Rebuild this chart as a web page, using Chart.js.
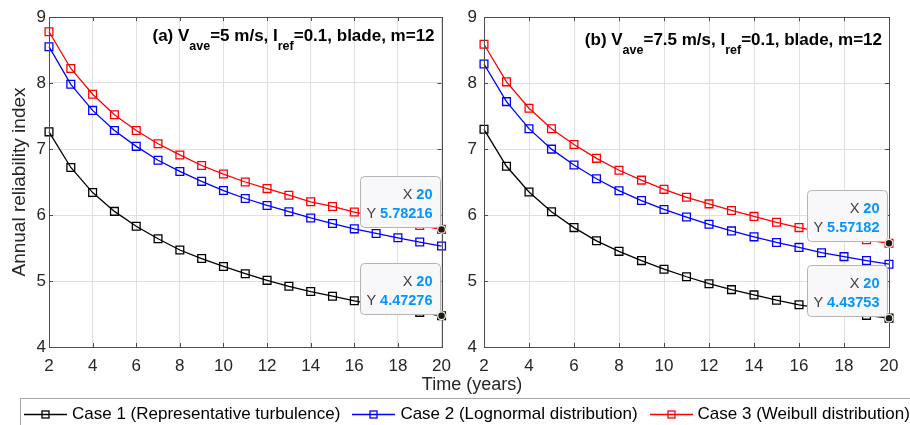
<!DOCTYPE html>
<html>
<head>
<meta charset="utf-8">
<script src="https://cdn.jsdelivr.net/npm/chart.js@4.4.0/dist/chart.umd.min.js"></script>
<style>
  body { margin: 0; background: #fff; font-family: "Liberation Sans", Arial, sans-serif; }
  #wrap { position: relative; width: 910px; height: 425px; overflow: hidden; background: #fff; }
  #chartA { position: absolute; left: 0; top: 0; }
  #chartB { position: absolute; left: 460px; top: 0; }
  #xlabel { position: absolute; left: 0; width: 944px; top: 374px; text-align: center;
            font-size: 18px; line-height: 21px; color: #262626; }
  #legend { position: absolute; left: 20px; top: 398px; width: 1000px; height: 60px;
            border: 1px solid #a8a8a8; background: #fff; }
  #legend .row { display: flex; align-items: center; height: 29px; padding-left: 3px; white-space: nowrap; }
  #legend .item { display: flex; align-items: center; margin-right: 12px; font-size: 17px; color: #000; }
  #legend svg { margin-right: 5px; }
</style>
</head>
<body>
<div id="wrap">
  <canvas id="chartA" width="460" height="380"></canvas>
  <canvas id="chartB" width="450" height="380"></canvas>
  <div id="xlabel">Time (years)</div>
  <div id="legend"><div class="row" id="legendRow"></div></div>
</div>
<script>
// data
const years = [2, 3, 4, 5, 6, 7, 8, 9, 10, 11, 12, 13, 14, 15, 16, 17, 18, 19, 20];
const xTicks = [2, 4, 6, 8, 10, 12, 14, 16, 18, 20];
const yTicks = [4, 5, 6, 7, 8, 9];

const seriesNames = ['Case 1 (Representative turbulence)', 'Case 2 (Lognormal distribution)', 'Case 3 (Weibull distribution)'];
const seriesColors = ['#000000', '#0000ff', '#ff0000'];

// panel (a)
const a_case1 = [7.26, 6.72, 6.34, 6.055, 5.83, 5.64, 5.47, 5.34, 5.22, 5.11, 5.01, 4.92, 4.84, 4.77, 4.70, 4.64, 4.58, 4.525, 4.47276];
const a_case2 = [8.55, 7.98, 7.585, 7.28, 7.04, 6.83, 6.66, 6.51, 6.37, 6.25, 6.145, 6.05, 5.955, 5.87, 5.79, 5.72, 5.655, 5.59, 5.53];
const a_case3 = [8.777, 8.22, 7.83, 7.52, 7.28, 7.08, 6.91, 6.75, 6.62, 6.50, 6.40, 6.30, 6.20, 6.13, 6.045, 5.97, 5.905, 5.84, 5.78216];

// panel (b)
const b_case1 = [7.30, 6.74, 6.35, 6.05, 5.81, 5.61, 5.45, 5.31, 5.18, 5.065, 4.96, 4.87, 4.79, 4.71, 4.64, 4.585, 4.53, 4.48, 4.43753];
const b_case2 = [8.29, 7.72, 7.31, 7.00, 6.76, 6.55, 6.37, 6.22, 6.085, 5.97, 5.86, 5.76, 5.67, 5.585, 5.51, 5.43, 5.37, 5.31, 5.255];
const b_case3 = [8.59, 8.02, 7.62, 7.31, 7.07, 6.86, 6.68, 6.53, 6.39, 6.27, 6.17, 6.07, 5.98, 5.89, 5.81, 5.745, 5.68, 5.625, 5.57182];

const titleA = [['(a) V', 0], ['ave', 1], ['=5 m/s, I', 0], ['ref', 1], ['=0.1, blade, m=12', 0]];
const titleB = [['(b) V', 0], ['ave', 1], ['=7.5 m/s, I', 0], ['ref', 1], ['=0.1, blade, m=12', 0]];

const FONT = '"Liberation Sans", Arial, sans-serif';

// axes box, inward ticks, panel title and data tips
const panelPlugin = {
  id: 'panel',
  afterDatasetsDraw(chart, args, opts) {
    const ctx = chart.ctx;
    const a = chart.chartArea;
    const xs = chart.scales.x, ys = chart.scales.y;
    ctx.save();
    ctx.strokeStyle = '#4d4d4d';
    ctx.lineWidth = 1;
    ctx.strokeRect(Math.round(a.left) + 0.5, Math.round(a.top) + 0.5,
                   Math.round(a.right - a.left), Math.round(a.bottom - a.top));
    ctx.beginPath();
    xTicks.forEach(t => {
      const px = Math.round(xs.getPixelForValue(t)) + 0.5;
      ctx.moveTo(px, a.bottom); ctx.lineTo(px, a.bottom - 4);
      ctx.moveTo(px, a.top); ctx.lineTo(px, a.top + 4);
    });
    yTicks.forEach(t => {
      const py = Math.round(ys.getPixelForValue(t)) + 0.5;
      ctx.moveTo(a.left, py); ctx.lineTo(a.left + 4, py);
      ctx.moveTo(a.right, py); ctx.lineTo(a.right - 4, py);
    });
    ctx.stroke();

    // title with subscripts
    const mainFont = 'bold 17px ' + FONT, subFont = 'bold 12.5px ' + FONT;
    let total = 0;
    opts.title.forEach(p => { ctx.font = p[1] ? subFont : mainFont; total += ctx.measureText(p[0]).width; });
    let x = a.right - 7 - total;
    ctx.fillStyle = '#000';
    ctx.textAlign = 'left';
    ctx.textBaseline = 'alphabetic';
    opts.title.forEach(p => {
      ctx.font = p[1] ? subFont : mainFont;
      ctx.fillText(p[0], x, p[1] ? opts.titleY + 9 : opts.titleY);
      x += ctx.measureText(p[0]).width;
    });

    // data tips
    opts.tips.forEach(di => {
      const meta = chart.getDatasetMeta(di);
      const last = meta.data.length - 1;
      const pt = meta.data[last];
      const px = pt.x, py = pt.y;
      const yv = chart.data.datasets[di].data[last];
      const xv = chart.data.labels[last];
      const bx = Math.round(px - 82) + 0.5, by = Math.round(py - 53) + 0.5, bw = 80, bh = 51;
      ctx.beginPath();
      ctx.roundRect(bx, by, bw, bh, 4);
      ctx.fillStyle = '#f8f8fa';
      ctx.fill();
      ctx.strokeStyle = '#b4b4b4';
      ctx.lineWidth = 1;
      ctx.stroke();
      const rx = bx + bw - 8;
      const lines = [['X ', String(xv), by + 22], ['Y ', String(yv), by + 41]];
      lines.forEach(l => {
        ctx.font = 'bold 14.5px ' + FONT;
        const vw = ctx.measureText(l[1]).width;
        ctx.textAlign = 'right';
        ctx.fillStyle = '#0096ff';
        ctx.fillText(l[1], rx, l[2]);
        ctx.font = '14.5px ' + FONT;
        ctx.fillStyle = '#404040';
        ctx.fillText(l[0], rx - vw, l[2]);
      });
      // marker
      ctx.beginPath();
      ctx.arc(px, py, 4.5, 0, Math.PI * 2);
      ctx.fillStyle = '#eeeed8';
      ctx.fill();
      ctx.beginPath();
      ctx.arc(px, py, 3.2, 0, Math.PI * 2);
      ctx.fillStyle = '#1a1a1a';
      ctx.fill();
    });
    ctx.restore();
  }
};

function makeDatasets(c1, c2, c3) {
  return [c1, c2, c3].map((d, i) => ({
    label: seriesNames[i],
    data: d,
    borderColor: seriesColors[i],
    backgroundColor: 'rgba(0,0,0,0)',
    borderWidth: 1.3,
    pointStyle: 'rect',
    pointRadius: 5.5,
    pointBorderWidth: 1.3,
    pointBorderColor: seriesColors[i],
    pointBackgroundColor: 'rgba(0,0,0,0)',
    tension: 0,
    clip: false
  }));
}

function makeChart(id, c1, c2, c3, cfg) {
  return new Chart(document.getElementById(id), {
    type: 'line',
    data: { labels: years, datasets: makeDatasets(c1, c2, c3) },
    plugins: [panelPlugin],
    options: {
      responsive: false,
      animation: false,
      devicePixelRatio: 1,
      layout: { padding: { top: 17, right: cfg.padRight, left: 0, bottom: 0 } },
      plugins: {
        legend: { display: false },
        tooltip: { enabled: false },
        panel: { title: cfg.title, titleY: cfg.titleY, tips: [2, 0] }
      },
      scales: {
        x: {
          type: 'linear',
          min: 2, max: 20,
          afterBuildTicks: s => { s.ticks = xTicks.map(v => ({ value: v })); },
          afterFit: s => { s.height = 33; },
          grid: { color: '#e0e0e0', drawTicks: false },
          border: { display: false },
          ticks: { padding: 9, color: '#262626', font: { family: FONT, size: 17 }, maxRotation: 0 }
        },
        y: {
          min: 4, max: 9,
          afterBuildTicks: s => { s.ticks = yTicks.map(v => ({ value: v })); },
          afterFit: s => { s.width = cfg.yWidth; },
          grid: { color: '#e0e0e0', drawTicks: false },
          border: { display: false },
          ticks: { padding: cfg.yPad, color: '#262626', font: { family: FONT, size: 17 } },
          title: {
            display: cfg.yTitle,
            text: 'Annual reliability index',
            color: '#262626',
            font: { family: FONT, size: 19 },
            padding: { top: 8, bottom: 0 }
          }
        }
      }
    }
  });
}

makeChart('chartA', a_case1, a_case2, a_case3, { padRight: 10, yWidth: 49, yPad: 3, yTitle: true, title: titleA, titleY: 41 });
makeChart('chartB', b_case1, b_case2, b_case3, { padRight: 21, yWidth: 24, yPad: 7, yTitle: false, title: titleB, titleY: 45 });

// legend
const row = document.getElementById('legendRow');
seriesNames.forEach((name, i) => {
  const item = document.createElement('div');
  item.className = 'item';
  item.innerHTML =
    '<svg width="43" height="14"><line x1="0" y1="7.5" x2="43" y2="7.5" stroke="' + seriesColors[i] + '" stroke-width="1.3"/>' +
    '<rect x="18" y="4" width="7" height="7" fill="none" stroke="' + seriesColors[i] + '" stroke-width="1.3"/></svg>';
  const span = document.createElement('span');
  span.textContent = name;
  item.appendChild(span);
  row.appendChild(item);
});
</script>
</body>
</html>
